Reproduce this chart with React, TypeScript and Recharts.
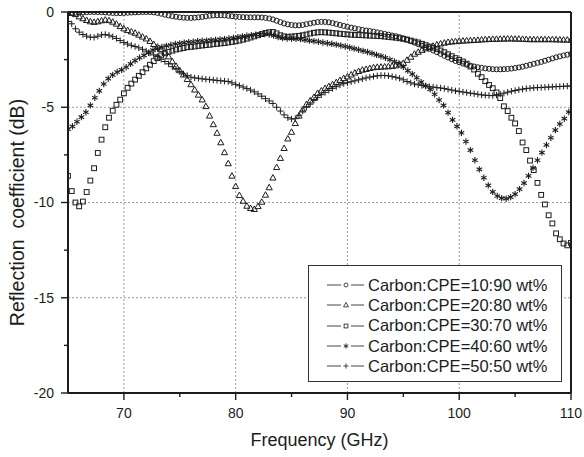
import React from 'react';
import { LineChart, Line, XAxis, YAxis, ReferenceLine } from 'recharts';

const FONT = '"Liberation Sans", Arial, Helvetica, sans-serif';
const INK = '#1c1c1c';

const SERIES_NAMES = [
  'Carbon:CPE=10:90 wt%',
  'Carbon:CPE=20:80 wt%',
  'Carbon:CPE=30:70 wt%',
  'Carbon:CPE=40:60 wt%',
  'Carbon:CPE=50:50 wt%',
];

const X_DOMAIN = [65, 110];
const Y_DOMAIN = [-20, 0];
const X_TICKS = [70, 75, 80, 85, 90, 95, 100, 105, 110];
const X_LABELS = [70, 80, 90, 100, 110];
const Y_TICKS = [0, -2.5, -5, -7.5, -10, -12.5, -15, -17.5, -20];
const Y_LABELS = [0, -5, -10, -15, -20];
const GRID_X = [70, 80, 90, 100];
const GRID_Y = [-5, -10, -15];

// frequency sweeps (start, step in GHz)
const SWEEP_START = 65;
const STEP_FINE = 1 / 3;
const STEP_STAR = 0.4;

// 10:90 wt% (circles)
const S1 = [
  -0.04, -0.04, -0.04, -0.03, -0.02, -0.01, 0.0, 0.0, 0.0, -0.01, -0.02, -0.04,
  -0.05, -0.06, -0.06, -0.05, -0.04, -0.03, -0.02, -0.01, 0.0, 0.0, 0.0, -0.02,
  -0.05, -0.09, -0.14, -0.18, -0.22, -0.25, -0.28, -0.3, -0.31, -0.31, -0.3, -0.28,
  -0.26, -0.23, -0.2, -0.18, -0.17, -0.17, -0.18, -0.2, -0.22, -0.24, -0.26, -0.27,
  -0.28, -0.28, -0.28, -0.28, -0.29, -0.31, -0.34, -0.39, -0.46, -0.53, -0.6, -0.65,
  -0.68, -0.7, -0.7, -0.68, -0.64, -0.6, -0.56, -0.53, -0.52, -0.52, -0.54, -0.58,
  -0.63, -0.68, -0.73, -0.78, -0.82, -0.86, -0.9, -0.94, -0.97, -1.0, -1.03, -1.07,
  -1.11, -1.15, -1.19, -1.23, -1.27, -1.32, -1.38, -1.45, -1.53, -1.61, -1.69, -1.77,
  -1.85, -1.93, -2.02, -2.11, -2.2, -2.3, -2.39, -2.48, -2.57, -2.64, -2.71, -2.77,
  -2.82, -2.86, -2.9, -2.93, -2.96, -2.98, -3.0, -3.01, -3.01, -3.0, -2.99, -2.97,
  -2.94, -2.91, -2.87, -2.82, -2.77, -2.72, -2.67, -2.62, -2.56, -2.5, -2.44, -2.38,
  -2.33, -2.28, -2.24, -2.2,
];

// 20:80 wt% (triangles)
const S2 = [
  -0.02, -0.06, -0.12, -0.24, -0.34, -0.43, -0.5, -0.53, -0.5, -0.45, -0.41, -0.44,
  -0.52, -0.62, -0.75, -0.87, -0.96, -1.03, -1.1, -1.2, -1.3, -1.4, -1.53, -1.69,
  -1.83, -1.96, -2.13, -2.34, -2.6, -2.84, -3.07, -3.29, -3.53, -3.8, -4.08, -4.35,
  -4.6, -4.95, -5.45, -5.9, -6.35, -6.85, -7.37, -7.95, -8.6, -9.15, -9.62, -9.92,
  -10.18, -10.3, -10.35, -10.2, -9.97, -9.6, -9.21, -8.7, -8.15, -7.67, -7.15, -6.65,
  -6.3, -5.84, -5.45, -5.13, -4.85, -4.65, -4.47, -4.26, -4.13, -4.0, -3.9, -3.8,
  -3.69, -3.58, -3.48, -3.39, -3.29, -3.19, -3.11, -3.04, -3.0, -2.95, -2.91, -2.89,
  -2.88, -2.87, -2.86, -2.84, -2.81, -2.76, -2.68, -2.52, -2.36, -2.2, -2.1, -2.0,
  -1.92, -1.85, -1.78, -1.71, -1.66, -1.62, -1.58, -1.56, -1.54, -1.52, -1.51, -1.5,
  -1.49, -1.48, -1.47, -1.45, -1.44, -1.43, -1.42, -1.42, -1.41, -1.41, -1.4, -1.4,
  -1.41, -1.41, -1.42, -1.43, -1.44, -1.44, -1.44, -1.44, -1.44, -1.44, -1.44, -1.45,
  -1.45, -1.46, -1.46, -1.47,
];

// 30:70 wt% (squares)
const S3 = [
  -8.6, -9.4, -10.0, -10.2, -9.95, -9.45, -8.85, -8.2, -7.4, -6.7, -6.05, -5.55,
  -5.18, -4.87, -4.6, -4.27, -3.98, -3.76, -3.55, -3.35, -3.16, -2.96, -2.77, -2.58,
  -2.42, -2.28, -2.17, -2.09, -2.03, -1.97, -1.93, -1.89, -1.85, -1.83, -1.81, -1.78,
  -1.76, -1.74, -1.72, -1.69, -1.67, -1.65, -1.63, -1.6, -1.57, -1.54, -1.5, -1.45,
  -1.4, -1.34, -1.28, -1.22, -1.16, -1.1, -1.06, -1.05, -1.12, -1.22, -1.28, -1.3,
  -1.29, -1.27, -1.25, -1.22, -1.18, -1.13, -1.09, -1.07, -1.06, -1.07, -1.08, -1.1,
  -1.12, -1.14, -1.16, -1.18, -1.19, -1.2, -1.21, -1.22, -1.23, -1.24, -1.25, -1.26,
  -1.27, -1.29, -1.31, -1.33, -1.35, -1.38, -1.41, -1.45, -1.5, -1.55, -1.6, -1.67,
  -1.74, -1.81, -1.88, -1.94, -2.02, -2.11, -2.22, -2.32, -2.42, -2.51, -2.6, -2.71,
  -2.86, -3.02, -3.24, -3.42, -3.63, -3.83, -4.0, -4.22, -4.52, -4.95, -5.2, -5.55,
  -5.85, -6.25, -6.85, -7.25, -7.8, -8.3, -8.97, -9.6, -10.1, -10.67, -11.1, -11.62,
  -11.93, -12.15, -12.25, -12.12,
];

// 40:60 wt% (asterisks), 0.4 GHz sweep
const S4 = [
  -6.15, -6.0, -5.76, -5.52, -5.26, -4.9, -4.5, -4.14, -3.78, -3.5, -3.3, -3.15,
  -3.04, -2.9, -2.72, -2.55, -2.4, -2.28, -2.14, -2.0, -1.92, -1.84, -1.78, -1.73,
  -1.68, -1.65, -1.61, -1.58, -1.56, -1.53, -1.51, -1.5, -1.48, -1.46, -1.44, -1.42,
  -1.39, -1.36, -1.32, -1.28, -1.25, -1.22, -1.19, -1.17, -1.16, -1.18, -1.24, -1.32,
  -1.37, -1.39, -1.4, -1.41, -1.42, -1.46, -1.5, -1.53, -1.56, -1.6, -1.64, -1.67,
  -1.71, -1.76, -1.81, -1.86, -1.92, -1.98, -2.04, -2.1, -2.17, -2.25, -2.32, -2.4,
  -2.5, -2.6, -2.7, -2.88, -3.08, -3.26, -3.45, -3.68, -3.88, -4.06, -4.32, -4.62,
  -4.9, -5.28, -5.66, -6.0, -6.34, -6.8, -7.25, -7.78, -8.26, -8.7, -9.1, -9.44,
  -9.66, -9.77, -9.8, -9.72, -9.56, -9.3, -8.98, -8.6, -8.18, -7.78, -7.38, -6.98,
  -6.6, -6.2, -5.88, -5.6, -5.25,
];

// 50:50 wt% (plus)
const S5 = [
  -0.5, -0.62, -0.88, -1.06, -1.18, -1.27, -1.32, -1.33, -1.27, -1.2, -1.18, -1.22,
  -1.3, -1.39, -1.5, -1.6, -1.68, -1.75, -1.81, -1.88, -1.96, -2.05, -2.15, -2.25,
  -2.34, -2.48, -2.6, -2.72, -2.87, -3.0, -3.13, -3.25, -3.34, -3.42, -3.46, -3.48,
  -3.51, -3.53, -3.55, -3.57, -3.59, -3.61, -3.63, -3.65, -3.72, -3.8, -3.87, -3.94,
  -4.02, -4.1, -4.19, -4.3, -4.42, -4.55, -4.67, -4.8, -5.0, -5.2, -5.4, -5.55,
  -5.62, -5.6, -5.42, -5.2, -5.0, -4.84, -4.64, -4.48, -4.34, -4.22, -4.11, -4.01,
  -3.92, -3.83, -3.76, -3.71, -3.66, -3.61, -3.56, -3.51, -3.46, -3.42, -3.38, -3.35,
  -3.33, -3.33, -3.35, -3.39, -3.43, -3.48, -3.56, -3.65, -3.72, -3.78, -3.82, -3.86,
  -3.89, -3.92, -3.94, -3.97, -3.99, -4.02, -4.06, -4.1, -4.14, -4.17, -4.2, -4.23,
  -4.26, -4.29, -4.32, -4.35, -4.37, -4.38, -4.39, -4.36, -4.31, -4.26, -4.21, -4.16,
  -4.12, -4.08, -4.05, -4.02, -4.0, -3.98, -3.97, -3.96, -3.95, -3.94, -3.93, -3.92,
  -3.91, -3.9, -3.89, -3.88,
];

const toPoints = (vals: number[], step: number) =>
  vals.map((v, i) => ({ f: +(SWEEP_START + i * step).toFixed(4), v }));

type P = { cx: number; cy: number };

const CircleMark = ({ cx, cy }: P) => (
  <circle cx={cx} cy={cy} r={2.5} fill="none" stroke={INK} strokeWidth={1} />
);
const TriangleMark = ({ cx, cy }: P) => (
  <path
    d={`M${cx},${cy - 3.2} L${cx + 3.1},${cy + 2.3} L${cx - 3.1},${cy + 2.3} Z`}
    fill="none"
    stroke={INK}
    strokeWidth={1}
  />
);
const SquareMark = ({ cx, cy }: P) => (
  <rect x={cx - 2.4} y={cy - 2.4} width={4.8} height={4.8} fill="none" stroke={INK} strokeWidth={1} />
);
const StarMark = ({ cx, cy }: P) => (
  <g stroke={INK} strokeWidth={1.1}>
    <line x1={cx} y1={cy - 3.2} x2={cx} y2={cy + 3.2} />
    <line x1={cx - 2.8} y1={cy - 1.6} x2={cx + 2.8} y2={cy + 1.6} />
    <line x1={cx - 2.8} y1={cy + 1.6} x2={cx + 2.8} y2={cy - 1.6} />
  </g>
);
const PlusMark = ({ cx, cy }: P) => (
  <g stroke={INK} strokeWidth={1}>
    <line x1={cx} y1={cy - 3.2} x2={cx} y2={cy + 3.2} />
    <line x1={cx - 3.2} y1={cy} x2={cx + 3.2} y2={cy} />
  </g>
);

const MARKS = [CircleMark, TriangleMark, SquareMark, StarMark, PlusMark];

const makeDot = (Shape: (p: P) => React.ReactElement) => (props: any) => {
  const { cx, cy, index } = props;
  if (cx == null || cy == null || isNaN(cx) || isNaN(cy)) return <g key={`e${index}`} />;
  return <Shape key={`d${index}`} cx={cx} cy={cy} />;
};

const SERIES = [
  { name: SERIES_NAMES[0], data: toPoints(S1, STEP_FINE) },
  { name: SERIES_NAMES[1], data: toPoints(S2, STEP_FINE) },
  { name: SERIES_NAMES[2], data: toPoints(S3, STEP_FINE) },
  { name: SERIES_NAMES[3], data: toPoints(S4, STEP_STAR) },
  { name: SERIES_NAMES[4], data: toPoints(S5, STEP_FINE) },
];

const X_TICK_GAP = 15;
const Y_TICK_GAP = 14;

const XTick = (props: any) => {
  const { x, y, payload } = props;
  const axisY = y - X_TICK_GAP;
  const major = X_LABELS.includes(payload.value);
  return (
    <g>
      <line x1={x} x2={x} y1={axisY} y2={axisY + (major ? 7 : 4)} stroke={INK} strokeWidth={1.4} />
      {major && (
        <text x={x} y={y} dy="0.71em" textAnchor="middle" fontSize={14} fontFamily={FONT} fill={INK}>
          {payload.value}
        </text>
      )}
    </g>
  );
};

const YTick = (props: any) => {
  const { x, y, payload } = props;
  const axisX = x + Y_TICK_GAP;
  const major = Y_LABELS.includes(payload.value);
  return (
    <g>
      <line x1={axisX} x2={axisX - (major ? 7 : 4)} y1={y} y2={y} stroke={INK} strokeWidth={1.4} />
      {major && (
        <text x={x} y={y} dy="0.355em" textAnchor="end" fontSize={14} fontFamily={FONT} fill={INK}>
          {payload.value}
        </text>
      )}
    </g>
  );
};

const XTitle = (props: any) => {
  const vb = props.viewBox;
  return (
    <text x={vb.x + vb.width / 2} y={vb.y + 53} textAnchor="middle" fontSize={18} fontFamily={FONT} fill={INK}>
      Frequency (GHz)
    </text>
  );
};

const YTitle = (props: any) => {
  const vb = props.viewBox;
  const cx = vb.x + 17;
  const cy = vb.y + vb.height / 2 + 10;
  return (
    <text
      x={cx}
      y={cy}
      transform={`rotate(-90 ${cx} ${cy})`}
      textAnchor="middle"
      dominantBaseline="central"
      fontSize={19.5}
      fontFamily={FONT}
      fill={INK}
      style={{ whiteSpace: 'pre' }}
    >
      {'Reflection  coefficient (dB)'}
    </text>
  );
};

const LegendBox = () => (
  <div
    style={{
      position: 'absolute',
      left: 308,
      top: 265,
      width: 254,
      height: 117,
      boxSizing: 'border-box',
      border: '1.5px solid #333',
      background: '#fff',
      paddingTop: 9,
      fontFamily: FONT,
    }}
  >
    {SERIES.map((s, i) => {
      const Mark = MARKS[i];
      return (
        <div key={s.name} style={{ display: 'flex', alignItems: 'center', height: 20.3 }}>
          <svg width={60} height={20} style={{ display: 'block' }}>
            <line x1={18} x2={32} y1={10} y2={10} stroke="#444" strokeWidth={1} />
            <line x1={42} x2={55} y1={10} y2={10} stroke="#444" strokeWidth={1} />
            <g transform="translate(37 10) scale(0.8) translate(-37 -10)">
              <Mark cx={37} cy={10} />
            </g>
          </svg>
          <span style={{ fontSize: 16.5, color: INK, marginLeft: -1, whiteSpace: 'nowrap' }}>{s.name}</span>
        </div>
      );
    })}
  </div>
);

export default function App() {
  return (
    <div style={{ position: 'absolute', left: 0, top: 0, width: 584, height: 457, background: '#fff' }}>
      <LineChart width={584} height={457} margin={{ top: 12, right: 13, left: 0, bottom: 0 }}>
        <XAxis
          dataKey="f"
          type="number"
          domain={X_DOMAIN}
          ticks={X_TICKS}
          interval={0}
          allowDataOverflow
          height={64}
          tickSize={0}
          tickMargin={X_TICK_GAP}
          tick={XTick}
          tickLine={false}
          axisLine={{ stroke: INK, strokeWidth: 2 }}
          label={{ content: XTitle }}
        />
        <YAxis
          type="number"
          domain={Y_DOMAIN}
          ticks={Y_TICKS}
          interval={0}
          allowDataOverflow
          width={68}
          tickSize={0}
          tickMargin={Y_TICK_GAP}
          tick={YTick}
          tickLine={false}
          axisLine={{ stroke: INK, strokeWidth: 2 }}
          label={{ content: YTitle }}
        />
        {GRID_X.map((g) => (
          <ReferenceLine key={`gx${g}`} x={g} stroke="#9a9a9a" strokeDasharray="2 2" strokeWidth={1} />
        ))}
        {GRID_Y.map((g) => (
          <ReferenceLine key={`gy${g}`} y={g} stroke="#9a9a9a" strokeDasharray="2 2" strokeWidth={1} />
        ))}
        <ReferenceLine y={Y_DOMAIN[1]} stroke={INK} strokeWidth={2} />
        <ReferenceLine x={X_DOMAIN[1]} stroke={INK} strokeWidth={2} />
        {SERIES.map((s, i) => (
          <Line
            key={s.name}
            name={s.name}
            data={s.data}
            dataKey="v"
            type="linear"
            stroke="none"
            dot={makeDot(MARKS[i])}
            activeDot={false}
            isAnimationActive={false}
          />
        ))}
      </LineChart>
      <LegendBox />
    </div>
  );
}
